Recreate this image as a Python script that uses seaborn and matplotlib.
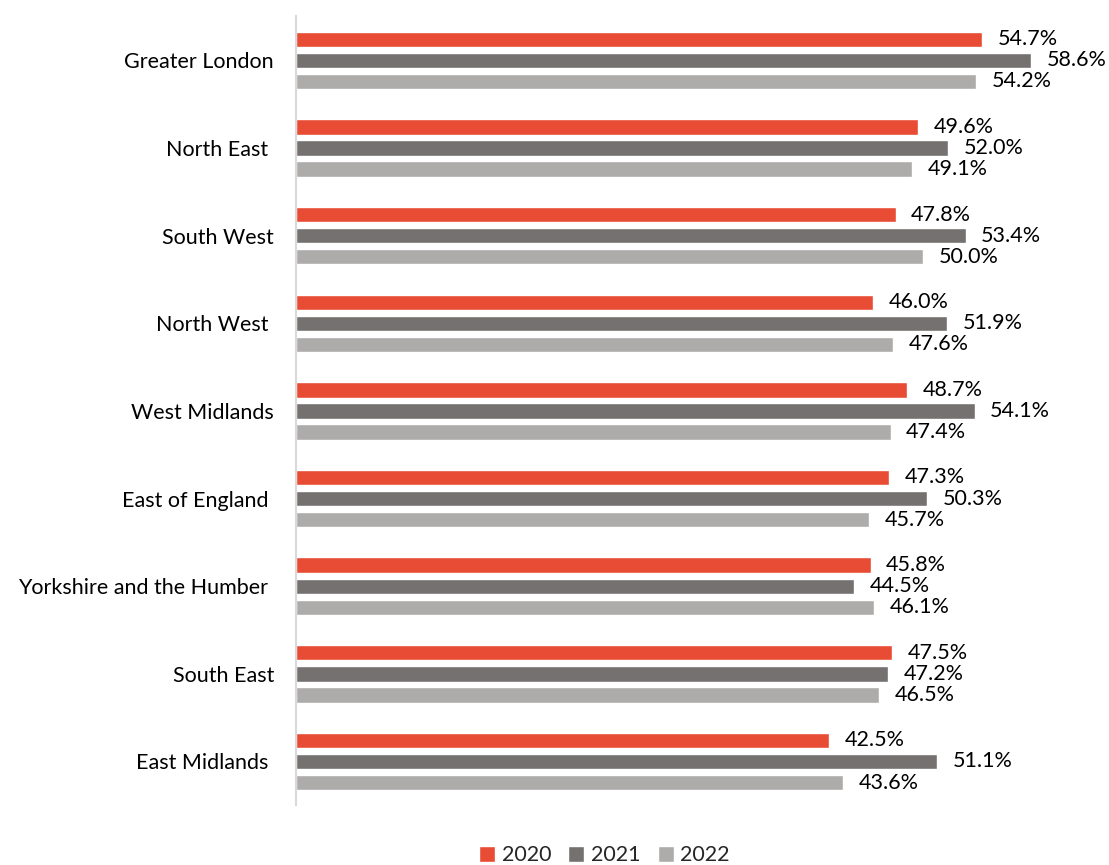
import numpy as np
import pandas as pd
import matplotlib
matplotlib.use('Agg')
import matplotlib.pyplot as plt
import seaborn as sns

# regions, top to bottom
regions = ['Greater London', 'North East ', 'South West', 'North West ', 'West Midlands',
           'East of England ', 'Yorkshire and the Humber ', 'South East', 'East Midlands ']
years = ['2020', '2021', '2022']
v2020 = [54.7, 49.6, 47.8, 46.0, 48.7, 47.3, 45.8, 47.5, 42.5]
v2021 = [58.6, 52.0, 53.4, 51.9, 54.1, 50.3, 44.5, 47.2, 51.1]
v2022 = [54.2, 49.1, 50.0, 47.6, 47.4, 45.7, 46.1, 46.5, 43.6]
colours = ['#E84C35', '#767171', '#AEABAB']

data = pd.DataFrame({
    'region': regions * 3,
    'year': [y for y in years for _ in regions],
    'value': v2020 + v2021 + v2022,
})

sns.set_style('white')
plt.rcParams['font.family'] = ['Lato', 'DejaVu Sans']

fig = plt.figure(figsize=(11.09, 8.65), dpi=100)
ax = fig.add_axes([0.267, 0.069, 0.733, 0.912])

sns.barplot(data=data, y='region', x='value', hue='year', orient='h',
            palette=colours, width=0.72, gap=0.27, saturation=1, ax=ax, legend=True)

# value labels
for cont in ax.containers:
    ax.bar_label(cont, labels=['%.1f%%' % b.get_width() for b in cont],
                 padding=11, fontsize=15.5, color='#000000')

ax.set_xlim(0, 64.8)
ax.set_ylim(8.5, -0.5)
ax.set_xlabel('')
ax.set_ylabel('')
ax.set_xticks([])
ax.tick_params(axis='y', length=0, pad=16, labelsize=15.5, labelcolor='#000000')
for s in ['top', 'right', 'bottom']:
    ax.spines[s].set_visible(False)
ax.spines['left'].set_color('#D9D9D9')
ax.spines['left'].set_linewidth(1.5)

handles, labels = ax.get_legend_handles_labels()
ax.get_legend().remove()
fig.legend(handles, labels, loc='center', bbox_to_anchor=(0.545, 0.011),
           ncol=3, frameon=False, fontsize=15.5, handlelength=0.75, handleheight=0.75,
           handletextpad=0.3, columnspacing=0.8)

fig.savefig('out.png', dpi=100)
